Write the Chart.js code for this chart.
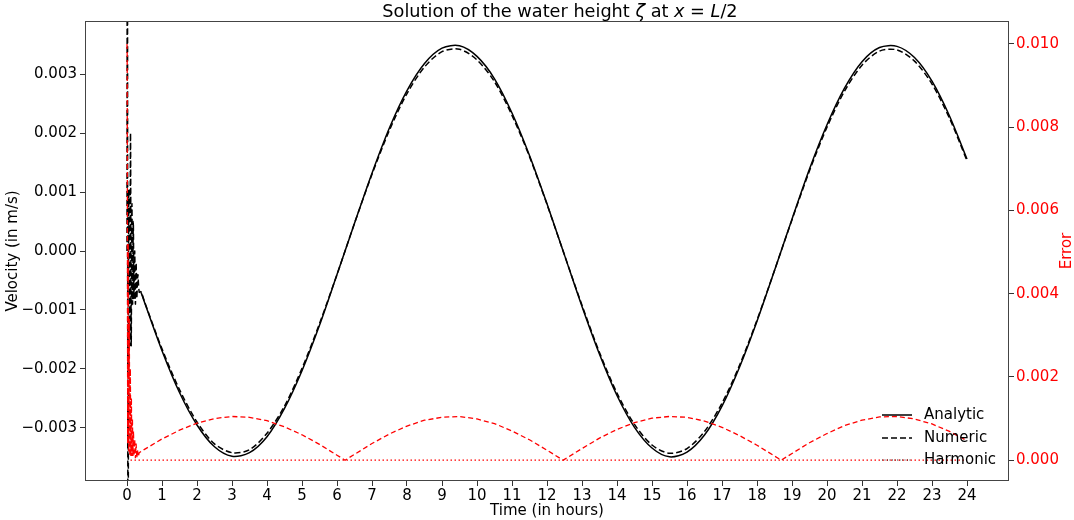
<!DOCTYPE html>
<html>
<head>
<meta charset="utf-8">
<script src="https://cdn.jsdelivr.net/npm/chart.js@4.4.1/dist/chart.umd.min.js"></script>
<style>
  html, body { margin: 0; padding: 0; background: #fff; }
  #wrap { width: 1074px; height: 520px; }
</style>
</head>
<body>
<div id="wrap"><canvas id="waterChart" width="1074" height="520"></canvas></div>
<script>
// tick labels
const hours = [0, 1, 2, 3, 4, 5, 6, 7, 8, 9, 10, 11, 12, 13, 14, 15, 16, 17, 18, 19, 20, 21, 22, 23, 24];
const velocityTicks = [-0.003, -0.002, -0.001, 0, 0.001, 0.002, 0.003];
const errorTicks = [0, 0.002, 0.004, 0.006, 0.008, 0.01];

// start-up transient (first ~20 minutes)
const spikeTime = [0, 0.01, 0.03, 0.05, 0.08, 0.1, 0.12, 0.14, 0.16, 0.18, 0.2, 0.22, 0.24, 0.26, 0.28, 0.31, 0.35];
const spikeNumeric = [0, 0.008, -0.008, 0.001, -0.0016, 0.002, -0.0016, 0.0008, -0.0009, 0.0005, -0.0008, 0, -0.0009, -0.0002, -0.0008, -0.0004, -0.0007];
const spikeErrTime = [0, 0.005, 0.02, 0.035, 0.05, 0.065, 0.08, 0.095, 0.11, 0.125, 0.14, 0.155, 0.17, 0.185, 0.2, 0.22, 0.24, 0.26, 0.28, 0.3, 0.32, 0.35];
const spikeError = [0.01, 0.0098, 0.0004, 0.0052, 0.0002, 0.0034, 0.0001, 0.0022, 0.0001, 0.0015, 0.0001, 0.001, 0.0001, 0.0007, 0.0001, 0.0005, 0.00005, 0.0004, 0.00005, 0.00025, 0.00008, 0.00018];

// main run
const time = [0.4, 0.5, 1, 1.5, 2, 2.5, 3, 3.5, 4, 4.5, 5, 5.5, 6, 6.23, 6.5, 7, 7.5, 8, 8.5, 9, 9.5, 10, 10.5, 11, 11.5, 12, 12.46, 12.5, 13, 13.5, 14, 14.5, 15, 15.5, 16, 16.5, 17, 17.5, 18, 18.5, 18.69, 19, 19.5, 20, 20.5, 21, 21.5, 22, 22.5, 23, 23.5, 24];
const analytic = [-0.0007, -0.00087, -0.00169, -0.0024, -0.00295, -0.00332, -0.00348, -0.00342, -0.00315, -0.00267, -0.00203, -0.00126, -0.0004, 0, 0.00047, 0.00132, 0.00209, 0.00272, 0.00318, 0.00344, 0.00348, 0.0033, 0.00292, 0.00234, 0.00162, 0.0008, 0, -0.00007, -0.00094, -0.00175, -0.00245, -0.00299, -0.00334, -0.00349, -0.00341, -0.00312, -0.00263, -0.00197, -0.00119, -0.00033, 0, 0.00054, 0.00139, 0.00214, 0.00276, 0.00321, 0.00345, 0.00347, 0.00328, 0.00288, 0.00229, 0.00156];
const numeric = [-0.00069, -0.00086, -0.00166, -0.00235, -0.0029, -0.00327, -0.00342, -0.00337, -0.00309, -0.00263, -0.00199, -0.00123, -0.0004, 0, 0.00047, 0.0013, 0.00205, 0.00267, 0.00312, 0.00338, 0.00342, 0.00324, 0.00287, 0.0023, 0.0016, 0.00079, 0, -0.00007, -0.00092, -0.00172, -0.00241, -0.00294, -0.00329, -0.00343, -0.00335, -0.00306, -0.00258, -0.00194, -0.00117, -0.00033, 0, 0.00053, 0.00136, 0.0021, 0.00271, 0.00315, 0.00339, 0.00341, 0.00322, 0.00283, 0.00225, 0.00153];
const error = [0.00021, 0.00026, 0.00051, 0.00072, 0.00089, 0.001, 0.00105, 0.00103, 0.00095, 0.0008, 0.00061, 0.00038, 0.00012, 0, 0.00014, 0.0004, 0.00063, 0.00082, 0.00096, 0.00103, 0.00105, 0.00099, 0.00088, 0.0007, 0.00049, 0.00024, 0, 0.00002, 0.00028, 0.00053, 0.00074, 0.0009, 0.00101, 0.00105, 0.00103, 0.00094, 0.00079, 0.00059, 0.00036, 0.0001, 0, 0.00016, 0.00042, 0.00064, 0.00083, 0.00096, 0.00104, 0.00105, 0.00099, 0.00087, 0.00069, 0.00047];
const harmonicErrTime = [0.1, 24];
const harmonicErr = [0, 0];

const pts = (xs, ys) => xs.map((x, i) => ({ x: x, y: ys[i] }));
const fmt = (v) => v.toFixed(3).replace("-", "\u2212");

Chart.defaults.font.family = "'DejaVu Sans', sans-serif";
Chart.defaults.font.size = 15;
Chart.defaults.color = "#000";

// matplotlib-like title with italic math symbols, and the right axis label
const titlePlugin = {
  id: "mathTitle",
  afterDraw(chart) {
    const { ctx, chartArea } = chart;
    const parts = [
      ["Solution of the water height ", false],
      ["\u03b6", true],
      [" at ", false],
      ["x", true],
      [" = ", false],
      ["L", true],
      ["/2", false],
    ];
    const font = (it) => (it ? "italic " : "") + "17.7px 'DejaVu Sans', sans-serif";
    ctx.save();
    let total = 0;
    parts.forEach(([s, it]) => { ctx.font = font(it); total += ctx.measureText(s).width; });
    let x = 560 - total / 2;
    ctx.fillStyle = "#000";
    ctx.textBaseline = "middle";
    ctx.textAlign = "left";
    parts.forEach(([s, it]) => {
      ctx.font = font(it);
      ctx.fillText(s, x, 12);
      x += ctx.measureText(s).width;
    });

    // "Error" reads bottom-to-top like matplotlib's ylabel
    ctx.translate(1067, (chartArea.top + chartArea.bottom) / 2);
    ctx.rotate(-Math.PI / 2);
    ctx.font = "15px 'DejaVu Sans', sans-serif";
    ctx.textAlign = "center";
    ctx.fillStyle = "#ff0000";
    ctx.fillText("Error", 0, 0);
    ctx.restore();
  },
};

// frame + legend inside the plot
const framePlugin = {
  id: "frameLegend",
  afterDraw(chart) {
    const { ctx, chartArea } = chart;
    ctx.save();
    ctx.strokeStyle = "#444";
    ctx.lineWidth = 1;
    ctx.strokeRect(chartArea.left + 0.5, chartArea.top + 0.5, chartArea.width - 1, chartArea.height - 1);

    const rows = [
      { label: "Analytic", dash: [], width: 1.5, y: 415 },
      { label: "Numeric", dash: [6, 3], width: 1.5, y: 438 },
      { label: "Harmonic", dash: [1, 1.5], width: 0.8, y: 460 },
    ];
    ctx.font = "15px 'DejaVu Sans', sans-serif";
    ctx.textBaseline = "middle";
    rows.forEach((r) => {
      ctx.beginPath();
      ctx.setLineDash(r.dash);
      ctx.lineWidth = r.width;
      ctx.strokeStyle = "#000";
      ctx.moveTo(882, r.y);
      ctx.lineTo(912, r.y);
      ctx.stroke();
      ctx.setLineDash([]);
      ctx.fillStyle = "#000";
      ctx.fillText(r.label, 924, r.y);
    });
    ctx.restore();
  },
};

const ctx = document.getElementById("waterChart").getContext("2d");
new Chart(ctx, {
  type: "line",
  data: {
    datasets: [
      {
        label: "Error",
        data: pts(spikeErrTime.concat(time), spikeError.concat(error)),
        yAxisID: "y2",
        borderColor: "#ff0000",
        borderWidth: 1.3,
        borderDash: [5, 3],
        pointRadius: 0,
        tension: 0,
      },
      {
        label: "Harmonic error",
        data: pts(harmonicErrTime, harmonicErr),
        yAxisID: "y2",
        borderColor: "#ff0000",
        borderWidth: 1.3,
        borderDash: [1.5, 2.5],
        pointRadius: 0,
      },
      {
        label: "Numeric",
        data: pts(spikeTime.concat(time), spikeNumeric.concat(numeric)),
        yAxisID: "y",
        borderColor: "#000",
        borderWidth: 1.5,
        borderDash: [6, 3],
        pointRadius: 0,
        tension: 0.3,
      },
      {
        label: "Analytic",
        data: pts(time, analytic),
        yAxisID: "y",
        borderColor: "#000",
        borderWidth: 1.5,
        pointRadius: 0,
        tension: 0.3,
      },
      {
        label: "Harmonic",
        data: [],
        yAxisID: "y",
        borderColor: "#000",
        borderWidth: 0.8,
        borderDash: [1, 1.5],
        pointRadius: 0,
      },
    ],
  },
  options: {
    responsive: false,
    animation: false,
    layout: { padding: { top: 21, left: 0, right: 0, bottom: 0 } },
    scales: {
      x: {
        type: "linear",
        min: -1.2,
        max: 25.2,
        afterBuildTicks: (axis) => { axis.ticks = hours.map((v) => ({ value: v })); },
        afterFit: (scale) => { scale.height = 39; },
        ticks: { padding: 1, maxRotation: 0, autoSkip: false, callback: (v) => String(v) },
        grid: { drawOnChartArea: false, tickLength: 5, color: "#333" },
        border: { display: false },
        title: { display: true, text: "Time (in hours)", padding: { top: 0, bottom: 0 } },
      },
      y: {
        position: "left",
        min: -0.0039,
        max: 0.0039,
        afterBuildTicks: (axis) => { axis.ticks = velocityTicks.map((v) => ({ value: v })); },
        afterFit: (scale) => { scale.width = 85; },
        ticks: { padding: 3, callback: (v) => fmt(v) },
        grid: { drawOnChartArea: false, tickLength: 5, color: "#333" },
        border: { display: false },
        title: { display: true, text: "Velocity (in m/s)", font: { lineHeight: 1 }, padding: { top: 6, bottom: 0 } },
      },
      y2: {
        position: "right",
        min: -0.0005,
        max: 0.01055,
        afterBuildTicks: (axis) => { axis.ticks = errorTicks.map((v) => ({ value: v })); },
        afterFit: (scale) => { scale.width = 65; },
        ticks: { padding: 2, color: "#ff0000", callback: (v) => fmt(v) },
        grid: { drawOnChartArea: false, tickLength: 5, color: "#333" },
        border: { display: false },
        title: { display: false },
      },
    },
    plugins: {
      legend: { display: false },
      tooltip: { enabled: false },
      title: { display: false },
    },
  },
  plugins: [titlePlugin, framePlugin],
});
</script>
</body>
</html>
